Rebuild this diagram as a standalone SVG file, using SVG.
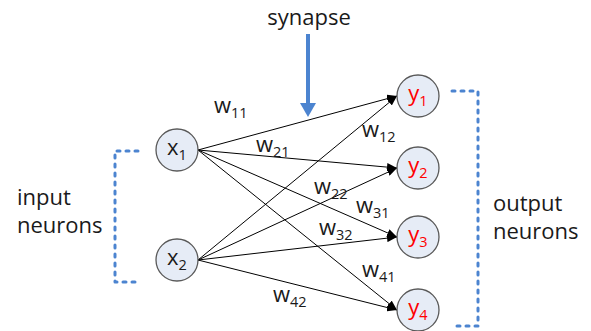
<svg xmlns="http://www.w3.org/2000/svg" width="591" height="331" viewBox="0 0 591 331">
<defs>
<style>
text{font-family:"Open Sans","Liberation Sans",sans-serif;font-size:22px;fill:#1a1a1a}
.sub{font-size:14.5px}
.node circle{fill:#E6ECF6;stroke:#595959;stroke-width:1.3}
.out text{fill:#FF0000}
.edge{stroke:#000;stroke-width:1;fill:none;marker-end:url(#ah)}
.bracket{fill:none;stroke:#4C84D0;stroke-width:3;stroke-dasharray:3 6;stroke-linecap:round;stroke-linejoin:round}
</style>
<marker id="ah" markerUnits="userSpaceOnUse" markerWidth="10" markerHeight="8" refX="10" refY="4" orient="auto">
<path d="M0,0 L10,4 L0,8 z" fill="#000"/>
</marker>
</defs>
<rect width="591" height="331" fill="#fff"/>
<g id="connectors">
<line class="edge" x1="198" y1="150" x2="397" y2="96"/>
<line class="edge" x1="198" y1="150" x2="397" y2="168"/>
<line class="edge" x1="198" y1="150" x2="397" y2="237"/>
<line class="edge" x1="198" y1="150" x2="397" y2="310"/>
<line class="edge" x1="198" y1="260" x2="397" y2="96"/>
<line class="edge" x1="198" y1="260" x2="397" y2="168"/>
<line class="edge" x1="198" y1="260" x2="397" y2="237"/>
<line class="edge" x1="198" y1="260" x2="397" y2="310"/>
</g>
<g id="weights">
<text x="214" y="113">w<tspan class="sub" dy="5">11</tspan></text>
<text x="256" y="152">w<tspan class="sub" dy="5">21</tspan></text>
<text x="362" y="137">w<tspan class="sub" dy="5">12</tspan></text>
<text x="314" y="194">w<tspan class="sub" dy="5">22</tspan></text>
<text x="356" y="213">w<tspan class="sub" dy="5">31</tspan></text>
<text x="319" y="235">w<tspan class="sub" dy="5">32</tspan></text>
<text x="362" y="277">w<tspan class="sub" dy="5">41</tspan></text>
<text x="273" y="302">w<tspan class="sub" dy="5">42</tspan></text>
</g>
<g id="x1" class="node"><circle cx="177" cy="150" r="21"/><text x="177" y="155" text-anchor="middle">x<tspan class="sub" dy="5">1</tspan></text></g>
<g id="x2" class="node"><circle cx="177" cy="260" r="21"/><text x="177" y="265" text-anchor="middle">x<tspan class="sub" dy="5">2</tspan></text></g>
<g id="y1" class="node out"><circle cx="418" cy="96" r="21"/><text x="418" y="101" text-anchor="middle">y<tspan class="sub" dy="5">1</tspan></text></g>
<g id="y2" class="node out"><circle cx="418" cy="168" r="21"/><text x="418" y="173" text-anchor="middle">y<tspan class="sub" dy="5">2</tspan></text></g>
<g id="y3" class="node out"><circle cx="418" cy="237" r="21"/><text x="418" y="242" text-anchor="middle">y<tspan class="sub" dy="5">3</tspan></text></g>
<g id="y4" class="node out"><circle cx="418" cy="310" r="21"/><text x="418" y="315" text-anchor="middle">y<tspan class="sub" dy="5">4</tspan></text></g>
<g id="synapse">
<text x="309" y="25" text-anchor="middle">synapse</text>
<line x1="308" y1="34" x2="308" y2="104" stroke="#4C84D0" stroke-width="4"/>
<path d="M300,103 L316,103 L308,117 z" fill="#4C84D0"/>
</g>
<g id="input-group">
<path class="bracket" d="M138,151 H115 V282 H138"/>
<text x="17" y="205">input</text>
<text x="17" y="233">neurons</text>
</g>
<g id="output-group">
<path class="bracket" d="M452,91 H478 V326 H452"/>
<text x="493" y="211">output</text>
<text x="493" y="239">neurons</text>
</g>
</svg>
